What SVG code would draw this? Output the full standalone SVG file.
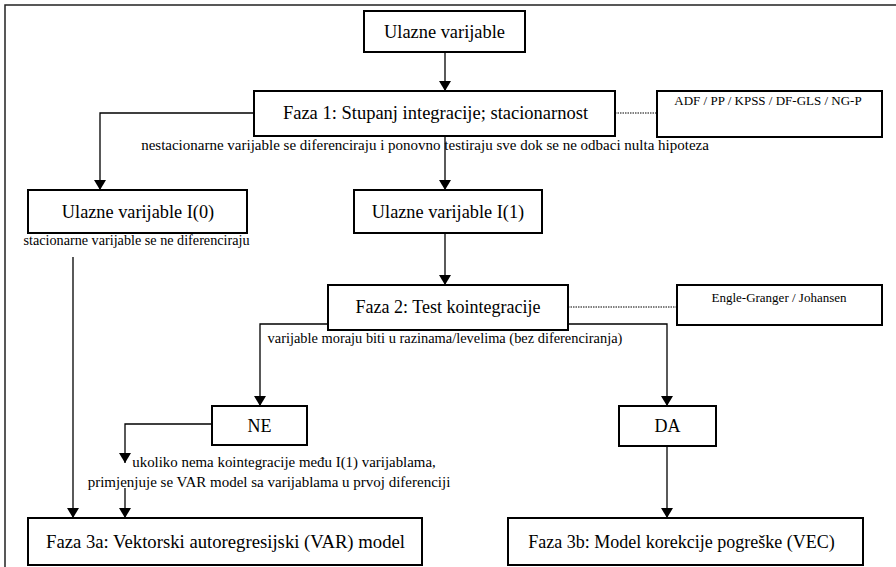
<svg xmlns="http://www.w3.org/2000/svg" width="896" height="567" viewBox="0 0 896 567">
<defs>
<marker id="ah" viewBox="0 0 10 12" refX="10" refY="6" markerWidth="10" markerHeight="12" markerUnits="userSpaceOnUse" orient="auto">
<path d="M0,0 L10,6 L0,12 Z" fill="#000"/>
</marker>
<style>
.box{fill:#fff;stroke:#000;stroke-width:2}
.lbl{font-family:"Liberation Serif","Times New Roman",serif;font-size:18px;fill:#000;text-anchor:middle}
.sm{font-family:"Liberation Serif","Times New Roman",serif;font-size:13px;fill:#000;text-anchor:middle}
.cn{fill:none;stroke:#000;stroke-width:1.3}
.arr{marker-end:url(#ah)}
.dot{fill:none;stroke:#000;stroke-width:1;stroke-dasharray:1.5 1}
</style>
</defs>
<rect x="0" y="0" width="896" height="567" fill="#fff"/>
<rect x="5" y="5" width="900" height="570" fill="none" stroke="#222" stroke-width="1.5"/>
<g id="connectors">
<path class="cn arr" d="M445,52 V91"/>
<path class="cn arr" d="M254,113 H100 V190"/>
<path class="cn arr" d="M445,136 V190"/>
<path class="dot" d="M615,113 H657"/>
<path class="cn arr" d="M445,233 V285"/>
<path class="cn arr" d="M73,257 V518"/>
<path class="cn arr" d="M328,324 H260 V406"/>
<path class="cn arr" d="M568,324 H667 V406"/>
<path class="dot" d="M568,307 H677"/>
<path class="cn arr" d="M212,424 H125 V463"/>
<path class="cn arr" d="M125,488 V518"/>
<path class="cn arr" d="M667,446 V518"/>
</g>
<g id="n_ulazne">
<rect class="box" x="364" y="11" width="161" height="41"/>
<text class="lbl" x="444.5" y="38" style="font-size:18.4px">Ulazne varijable</text>
</g>
<g id="n_faza1">
<rect class="box" x="254" y="91" width="361" height="45"/>
<text class="lbl" x="435.5" y="119" style="font-size:18.5px">Faza 1: Stupanj integracije; stacionarnost</text>
</g>
<g id="n_adf">
<rect class="box" x="657" y="91" width="225" height="46"/>
<text class="sm" x="768" y="105">ADF / PP / KPSS / DF-GLS / NG-P</text>
</g>
<g id="t_nestac">
<text class="sm" x="425" y="150" style="font-size:15px">nestacionarne varijable se diferenciraju i ponovno testiraju sve dok se ne odbaci nulta hipoteza</text>
</g>
<g id="n_i0">
<rect class="box" x="28" y="190" width="219" height="43"/>
<text class="lbl" x="138" y="218" style="font-size:18.3px">Ulazne varijable I(0)</text>
<text class="sm" x="136.5" y="245" style="font-size:14.2px">stacionarne varijable se ne diferenciraju</text>
</g>
<g id="n_i1">
<rect class="box" x="354" y="190" width="188" height="43"/>
<text class="lbl" x="448" y="218" style="font-size:18.3px">Ulazne varijable I(1)</text>
</g>
<g id="n_faza2">
<rect class="box" x="328" y="285" width="240" height="45"/>
<text class="lbl" x="448" y="313">Faza 2: Test kointegracije</text>
</g>
<g id="n_engle">
<rect class="box" x="677" y="285" width="205" height="40"/>
<text class="sm" x="779" y="302">Engle-Granger / Johansen</text>
</g>
<g id="t_razine">
<text class="sm" x="445" y="343" style="font-size:14.4px">varijable moraju biti u razinama/levelima (bez diferenciranja)</text>
</g>
<g id="n_ne">
<rect class="box" x="212" y="406" width="95" height="39"/>
<text class="lbl" x="259.5" y="432">NE</text>
</g>
<g id="n_da">
<rect class="box" x="619" y="406" width="97" height="40"/>
<text class="lbl" x="667.5" y="432">DA</text>
</g>
<g id="t_ukoliko">
<text class="sm" x="284" y="467" style="font-size:14.9px">ukoliko nema kointegracije među I(1) varijablama,</text>
<text class="sm" x="269" y="487" style="font-size:15px">primjenjuje se VAR model sa varijablama u prvoj diferenciji</text>
</g>
<g id="n_faza3a">
<rect class="box" x="28" y="518" width="394" height="47"/>
<text class="lbl" x="225.5" y="548" style="font-size:18.7px">Faza 3a: Vektorski autoregresijski (VAR) model</text>
</g>
<g id="n_faza3b">
<rect class="box" x="508" y="518" width="355" height="47"/>
<text class="lbl" x="681.5" y="548">Faza 3b: Model korekcije pogreške (VEC)</text>
</g>
</svg>
